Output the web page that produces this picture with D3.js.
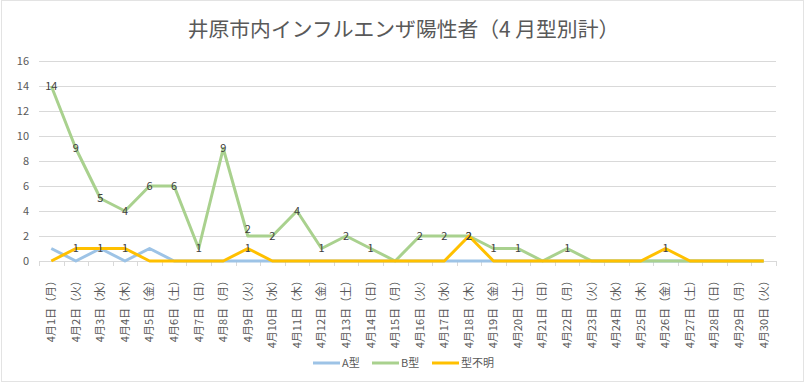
<!DOCTYPE html>
<html>
<head>
<meta charset="utf-8">
<script src="https://cdn.jsdelivr.net/npm/d3@7"></script>
<style>
  body { margin: 0; background: #fff; }
  svg { font-family: "Noto Sans CJK JP", "Noto Sans", sans-serif; }
</style>
</head>
<body>
<div id="chart"></div>
<script>
const weekdays = ['月', '火', '水', '木', '金', '土', '日'];
const days = d3.range(1, 31);
const categories = days.map((d, i) => `4月${d}日（${weekdays[i % 7]}）`);

const typeA = [1, 0, 1, 0, 1, 0, 0, 0, 0, 0, 0, 0, 0, 0, 0, 0, 0, 0, 0, 0, 0, 0, 0, 0, 0, 0, 0, 0, 0, 0];
const typeB = [14, 9, 5, 4, 6, 6, 1, 9, 2, 2, 4, 1, 2, 1, 0, 2, 2, 2, 1, 1, 0, 1, 0, 0, 0, 0, 0, 0, 0, 0];
const typeUnknown = [0, 1, 1, 1, 0, 0, 0, 0, 1, 0, 0, 0, 0, 0, 0, 0, 0, 2, 0, 0, 0, 0, 0, 0, 0, 1, 0, 0, 0, 0];
const yTicks = [0, 2, 4, 6, 8, 10, 12, 14, 16];

const series = [
  {name: 'A型', values: typeA, color: '#9dc3e6', labels: false},
  {name: 'B型', values: typeB, color: '#a9d18e', labels: true},
  {name: '型不明', values: typeUnknown, color: '#ffc000', labels: true}
];

const width = 807, height = 384;
const margin = {top: 61, right: 31, bottom: 123, left: 39};
const innerW = width - margin.left - margin.right;
const innerH = height - margin.top - margin.bottom;

const svg = d3.select('#chart').append('svg')
    .attr('width', width)
    .attr('height', height);

// chart border
svg.append('rect')
    .attr('x', 1.5).attr('y', 0.5)
    .attr('width', width - 5).attr('height', height - 3)
    .attr('fill', 'none')
    .attr('stroke', '#e3e3e3');

svg.append('text')
    .attr('x', width / 2)
    .attr('y', 37)
    .attr('text-anchor', 'middle')
    .attr('fill', '#595959')
    .attr('font-size', 20.8)
    .text('井原市内インフルエンザ陽性者（4 月型別計）');

const g = svg.append('g')
    .attr('transform', `translate(${margin.left},${margin.top})`);

const x = d3.scaleBand().domain(categories).range([0, innerW]);
const y = d3.scaleLinear().domain([0, 16]).range([innerH, 0]);

// gridlines
g.selectAll('.grid').data(yTicks.slice(1)).join('line')
    .attr('class', 'grid')
    .attr('x1', 0).attr('x2', innerW)
    .attr('y1', d => y(d) + 0.5).attr('y2', d => y(d) + 0.5)
    .attr('stroke', '#d9d9d9');

// y axis labels
g.selectAll('.ylab').data(yTicks).join('text')
    .attr('class', 'ylab')
    .attr('x', -10)
    .attr('y', d => y(d))
    .attr('dy', '0.35em')
    .attr('text-anchor', 'end')
    .attr('fill', '#595959')
    .attr('font-size', 11)
    .text(d => d);

// x axis line and ticks between categories
g.append('line')
    .attr('x1', 0).attr('x2', innerW)
    .attr('y1', innerH + 0.5).attr('y2', innerH + 0.5)
    .attr('stroke', '#d9d9d9');
const bounds = [...categories.map(c => x(c)), innerW];
g.selectAll('.xtick').data(bounds).join('line')
    .attr('class', 'xtick')
    .attr('x1', d => Math.round(d) + 0.5).attr('x2', d => Math.round(d) + 0.5)
    .attr('y1', innerH).attr('y2', innerH + 5)
    .attr('stroke', '#d9d9d9');

// category labels, rotated
g.selectAll('.xlab').data(categories).join('text')
    .attr('class', 'xlab')
    .attr('transform', d => `translate(${x(d) + x.bandwidth() / 2},${innerH + 14}) rotate(-90)`)
    .attr('dy', '0.35em')
    .attr('text-anchor', 'end')
    .attr('fill', '#595959')
    .attr('font-size', 11)
    .text(d => d);

const line = d3.line()
    .x((d, i) => x(categories[i]) + x.bandwidth() / 2)
    .y(d => y(d));

series.forEach(s => {
  g.append('path')
      .datum(s.values)
      .attr('fill', 'none')
      .attr('stroke', s.color)
      .attr('stroke-width', 3)
      .attr('stroke-linejoin', 'round')
      .attr('d', line);
});

// data labels; a B label sitting just above a 型不明 label is nudged up
const labelShift = (s, i, v) => {
  if (s.name !== 'B型') return 0;
  const u = typeUnknown[i];
  const gap = y(u) - y(v);
  return (u > 0 && gap > 0 && gap < 14) ? -7 : 0;
};

series.filter(s => s.labels).forEach(s => {
  g.selectAll(null).data(s.values.map((v, i) => ({v, i})).filter(d => d.v > 0)).join('text')
      .attr('x', d => x(categories[d.i]) + x.bandwidth() / 2)
      .attr('y', d => y(d.v) + labelShift(s, d.i, d.v))
      .attr('dy', '0.35em')
      .attr('text-anchor', 'middle')
      .attr('fill', '#404040')
      .attr('font-size', 11)
      .text(d => d.v);
});

// legend
const legend = svg.append('g').attr('transform', 'translate(313,363)');
const legendX = [0, 59, 119];
series.forEach((s, i) => {
  const lg = legend.append('g').attr('transform', `translate(${legendX[i]},0)`);
  lg.append('line')
      .attr('x1', 0).attr('x2', 27)
      .attr('stroke', s.color)
      .attr('stroke-width', 3);
  lg.append('text')
      .attr('x', 29)
      .attr('dy', '0.35em')
      .attr('fill', '#595959')
      .attr('font-size', 11)
      .text(s.name);
});
</script>
</body>
</html>
